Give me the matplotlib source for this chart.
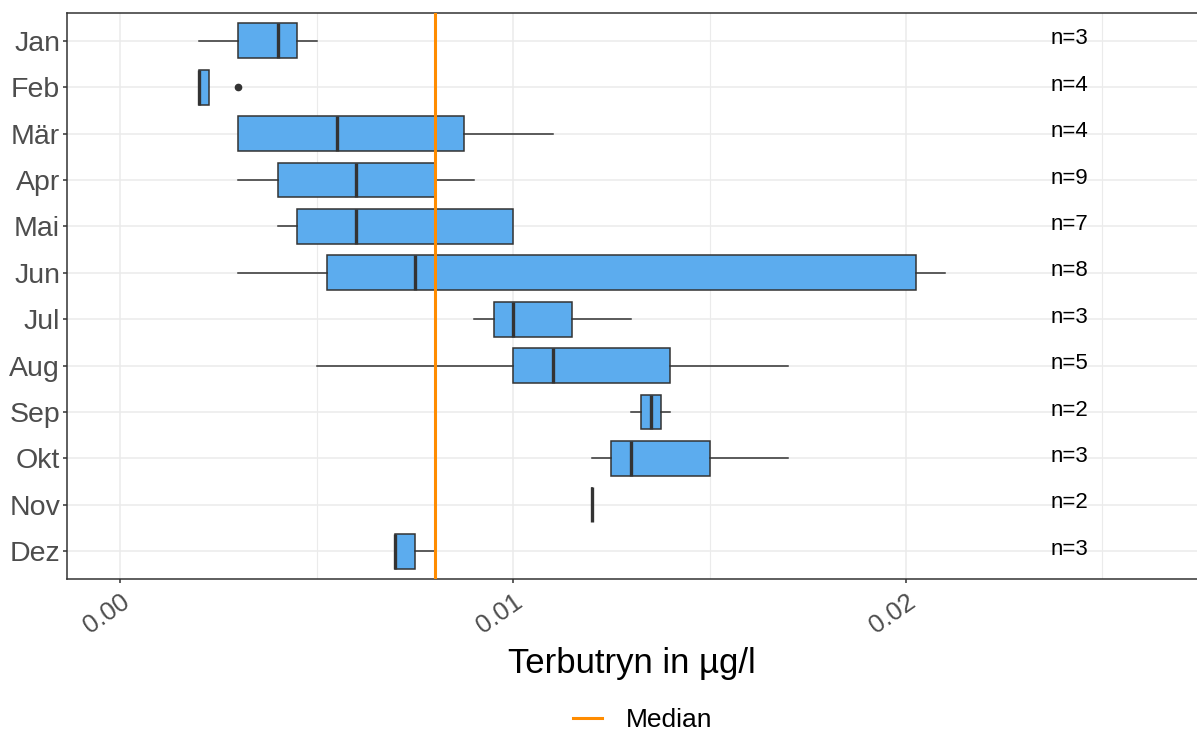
import matplotlib
matplotlib.use("Agg")
import matplotlib.pyplot as plt
from matplotlib.lines import Line2D

plt.rcParams['font.family'] = ['Liberation Sans', 'DejaVu Sans']

months = ["Jan", "Feb", "Mär", "Apr", "Mai", "Jun", "Jul", "Aug", "Sep", "Okt", "Nov", "Dez"]
n_values = [3, 4, 4, 9, 7, 8, 3, 5, 2, 3, 2, 3]
whisker_low = [0.002, 0.002, 0.003, 0.003, 0.004, 0.003, 0.009, 0.005, 0.013, 0.012, 0.012, 0.007]
q1 = [0.003, 0.002, 0.003, 0.004, 0.0045, 0.00525, 0.0095, 0.010, 0.01325, 0.0125, 0.012, 0.007]
medians = [0.004, 0.002, 0.0055, 0.006, 0.006, 0.0075, 0.010, 0.011, 0.0135, 0.013, 0.012, 0.007]
q3 = [0.0045, 0.00225, 0.00875, 0.008, 0.010, 0.02025, 0.0115, 0.014, 0.01375, 0.015, 0.012, 0.0075]
whisker_high = [0.005, 0.00225, 0.011, 0.009, 0.010, 0.021, 0.013, 0.017, 0.014, 0.017, 0.012, 0.008]
outliers = [[], [0.003], [], [], [], [], [], [], [], [], [], []]
overall_median = 0.008
x_ticks = [0.0, 0.01, 0.02]
x_tick_labels = ["0.00", "0.01", "0.02"]

fig = plt.figure(figsize=(11.97, 7.34), dpi=100)
ax = fig.add_axes([67 / 1197, 1 - 579 / 734, 1 - 67 / 1197, (579 - 13) / 734])

# Jan on top
positions = [len(months) - i for i in range(len(months))]

stats = []
for i in range(len(months)):
    stats.append({
        "med": medians[i], "q1": q1[i], "q3": q3[i],
        "whislo": whisker_low[i], "whishi": whisker_high[i],
        "fliers": outliers[i],
    })

ax.bxp(stats, positions=positions, vert=False, widths=0.75, patch_artist=True,
       showcaps=False,
       boxprops=dict(facecolor="#5CACEE", edgecolor="#333333", linewidth=1.1),
       medianprops=dict(color="#333333", linewidth=2.4, solid_capstyle="butt"),
       whiskerprops=dict(color="#333333", linewidth=1.1),
       flierprops=dict(marker="o", markerfacecolor="#333333", markeredgecolor="#333333",
                       markersize=4.5),
       zorder=3)

ax.axvline(overall_median, color="#FF8C00", linewidth=2.2, zorder=4)

for i in range(len(months)):
    ax.text(0.02415, positions[i] + 0.04, "n=" + str(n_values[i]), ha="center", va="center",
            fontsize=16, color="black", zorder=5)

ax.set_xlim(-0.001362, 0.02741)
ax.set_ylim(0.4, 12.6)
ax.set_yticks(positions)
ax.set_yticklabels(months, fontsize=20.5, color="#4D4D4D")
ax.set_xticks(x_ticks)
ax.set_xticks([0.005, 0.015, 0.025], minor=True)
ax.set_xticklabels(x_tick_labels, fontsize=18.5, color="#4D4D4D", rotation=35,
                   ha="right", rotation_mode="anchor")
ax.tick_params(axis="both", which="major", length=3, width=1.1, color="#333333", pad=2)
ax.tick_params(axis="x", which="major", pad=5)
ax.tick_params(axis="x", which="minor", length=0)
ax.grid(True, which="major", color="#EBEBEB", linewidth=1.1, zorder=0)
ax.grid(True, which="minor", axis="x", color="#EBEBEB", linewidth=0.8, zorder=0)
ax.set_axisbelow(True)
for side in ["left", "bottom", "top"]:
    ax.spines[side].set_color("#333333")
    ax.spines[side].set_linewidth(1.1)
ax.spines["right"].set_visible(False)

ax.set_xlabel("Terbutryn in µg/l", fontsize=25, color="black", labelpad=6)

handle = Line2D([], [], color="#FF8C00", linewidth=2.2)
fig.legend([handle], ["Median"], loc="center", bbox_to_anchor=(0.537, 0.019),
           frameon=False, fontsize=19, handlelength=1.1, handletextpad=0.9)

fig.savefig("out.png", dpi=100)
